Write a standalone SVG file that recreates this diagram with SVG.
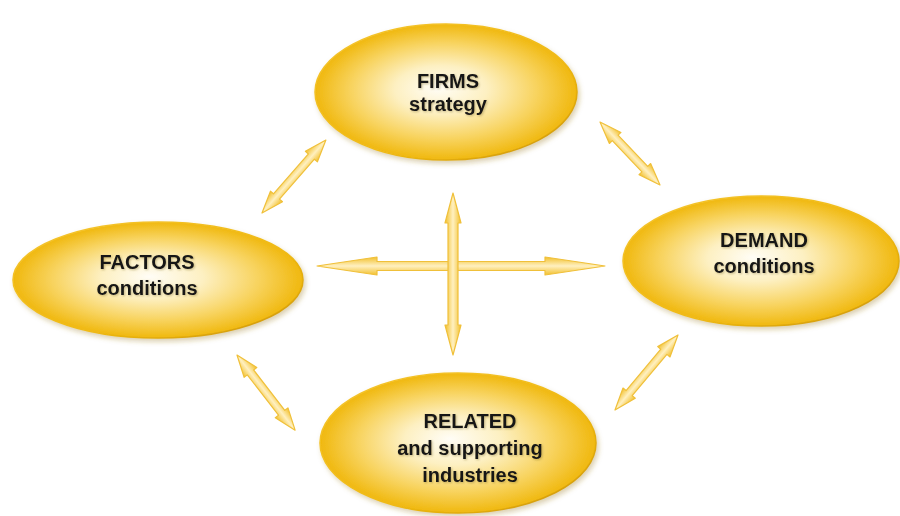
<svg xmlns="http://www.w3.org/2000/svg" width="900" height="516" viewBox="0 0 900 516">
  <defs>
    <radialGradient id="oval" cx="50%" cy="50%" r="50%" fx="47%" fy="47%">
      <stop offset="0" stop-color="#FFFDF6"/>
      <stop offset="0.35" stop-color="#FDF0C2"/>
      <stop offset="0.7" stop-color="#F8D461"/>
      <stop offset="1" stop-color="#F0B80E"/>
    </radialGradient>
    <linearGradient id="rim" x1="0" y1="0" x2="1" y2="1">
      <stop offset="0" stop-color="#F5C530"/>
      <stop offset="0.6" stop-color="#F0BA14"/>
      <stop offset="1" stop-color="#C99200"/>
    </linearGradient>
    <linearGradient id="shaft" x1="0" y1="0" x2="0" y2="1">
      <stop offset="0" stop-color="#F2C02C"/>
      <stop offset="0.5" stop-color="#FFF0C0"/>
      <stop offset="1" stop-color="#F2C02C"/>
    </linearGradient>
    <filter id="shadow" x="-10%" y="-10%" width="125%" height="130%">
      <feGaussianBlur in="SourceAlpha" stdDeviation="2.5"/>
      <feOffset dx="2" dy="3" result="b"/>
      <feFlood flood-color="#9A7A20" flood-opacity="0.35"/>
      <feComposite in2="b" operator="in"/>
      <feMerge><feMergeNode/><feMergeNode in="SourceGraphic"/></feMerge>
    </filter>
    <filter id="soft" x="-10%" y="-20%" width="120%" height="150%">
      <feGaussianBlur in="SourceAlpha" stdDeviation="1"/>
      <feOffset dx="1" dy="1" result="b"/>
      <feFlood flood-color="#6B5A20" flood-opacity="0.4"/>
      <feComposite in2="b" operator="in"/>
      <feMerge><feMergeNode/><feMergeNode in="SourceGraphic"/></feMerge>
    </filter>
  </defs>
  <style>
    .node ellipse { fill: url(#oval); stroke: url(#rim); stroke-width: 1.5; filter: url(#shadow); }
    .node text { font-family: "Liberation Sans", Arial, sans-serif; font-weight: bold; font-size: 20px; fill: #161616; text-anchor: middle; filter: url(#soft); }
    .arrow { fill: url(#shaft); stroke: #F0C03A; stroke-width: 1.2; stroke-linejoin: round; }
  </style>
  <rect width="900" height="516" fill="#FFFFFF"/>

  <!-- two-way connectors between the four factors -->
  <g id="connectors">
    <!-- horizontal: factors <-> demand -->
    <path class="arrow" transform="translate(317,266)" d="M0,0 L60,-9 L60,-4.5 L228,-4.5 L228,-9 L288,0 L228,9 L228,4.5 L60,4.5 L60,9 Z"/>
    <!-- vertical: firms <-> related -->
    <path class="arrow" transform="translate(453,193) rotate(90)" d="M0,0 L30,-8 L30,-5 L132,-5 L132,-8 L162,0 L132,8 L132,5 L30,5 L30,8 Z"/>
    <!-- firms <-> factors -->
    <path class="arrow" transform="translate(262,213) rotate(-48.8)" d="M0,0 L22,-8 L22,-4 L75,-4 L75,-8 L97,0 L75,8 L75,4 L22,4 L22,8 Z"/>
    <!-- firms <-> demand -->
    <path class="arrow" transform="translate(600,122) rotate(46.4)" d="M0,0 L22,-8 L22,-4 L65,-4 L65,-8 L87,0 L65,8 L65,4 L22,4 L22,8 Z"/>
    <!-- related <-> demand -->
    <path class="arrow" transform="translate(615,410) rotate(-50)" d="M0,0 L22,-8 L22,-4 L76,-4 L76,-8 L98,0 L76,8 L76,4 L22,4 L22,8 Z"/>
    <!-- factors <-> related -->
    <path class="arrow" transform="translate(237,355) rotate(52.3)" d="M0,0 L22,-8 L22,-4 L73,-4 L73,-8 L95,0 L73,8 L73,4 L22,4 L22,8 Z"/>
  </g>

  <g id="firms" class="node">
    <ellipse cx="446" cy="92" rx="131" ry="68"/>
    <text x="448" y="88">FIRMS</text>
    <text x="448" y="111">strategy</text>
  </g>

  <g id="factors" class="node">
    <ellipse cx="158" cy="280" rx="145" ry="58"/>
    <text x="147" y="269">FACTORS</text>
    <text x="147" y="295">conditions</text>
  </g>

  <g id="demand" class="node">
    <ellipse cx="761" cy="261" rx="138" ry="65"/>
    <text x="764" y="247">DEMAND</text>
    <text x="764" y="273">conditions</text>
  </g>

  <g id="related" class="node">
    <ellipse cx="458" cy="443" rx="138" ry="70"/>
    <text x="470" y="428">RELATED</text>
    <text x="470" y="455">and supporting</text>
    <text x="470" y="482">industries</text>
  </g>
</svg>
